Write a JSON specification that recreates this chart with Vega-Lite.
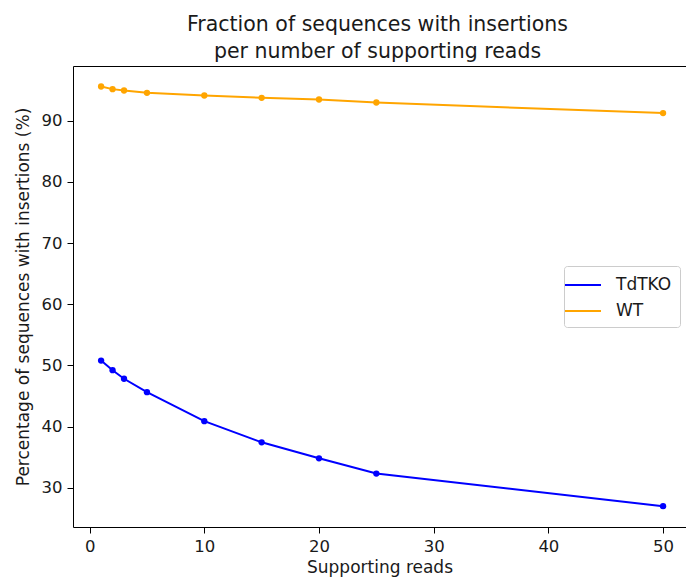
{
  "$schema": "https://vega.github.io/schema/vega-lite/v6.json",
  "autosize": "none",
  "width": 613,
  "height": 461,
  "padding": {"left": 73, "top": 66, "right": 0, "bottom": 56},
  "background": "white",
  "config": {
    "font": "DejaVu Sans",
    "view": {"stroke": "black", "strokeWidth": 1},
    "axis": {
      "grid": false,
      "domain": false,
      "tickColor": "black",
      "tickSize": 6,
      "labelPadding": 5,
      "labelFontSize": 16.5,
      "labelColor": "#1a1a1a",
      "titleFontSize": 17,
      "titleFontWeight": "normal",
      "titleColor": "#1a1a1a",
      "labelFont": "DejaVu Sans",
      "titleFont": "DejaVu Sans"
    }
  },
  "title": {
    "text": ["Fraction of sequences with insertions", "per number of supporting reads"],
    "fontSize": 20.5,
    "fontWeight": "normal",
    "font": "DejaVu Sans",
    "color": "#1a1a1a",
    "anchor": "middle",
    "lineHeight": 27,
    "offset": 4,
    "dx": -2
  },
  "data": {
    "values": [
      {"reads": 1, "pct": 50.8, "genotype": "TdTKO"},
      {"reads": 2, "pct": 49.23, "genotype": "TdTKO"},
      {"reads": 3, "pct": 47.83, "genotype": "TdTKO"},
      {"reads": 5, "pct": 45.64, "genotype": "TdTKO"},
      {"reads": 10, "pct": 40.9, "genotype": "TdTKO"},
      {"reads": 15, "pct": 37.44, "genotype": "TdTKO"},
      {"reads": 20, "pct": 34.83, "genotype": "TdTKO"},
      {"reads": 25, "pct": 32.33, "genotype": "TdTKO"},
      {"reads": 50, "pct": 27.0, "genotype": "TdTKO"},
      {"reads": 1, "pct": 95.6, "genotype": "WT"},
      {"reads": 2, "pct": 95.17, "genotype": "WT"},
      {"reads": 3, "pct": 94.94, "genotype": "WT"},
      {"reads": 5, "pct": 94.57, "genotype": "WT"},
      {"reads": 10, "pct": 94.13, "genotype": "WT"},
      {"reads": 15, "pct": 93.75, "genotype": "WT"},
      {"reads": 20, "pct": 93.47, "genotype": "WT"},
      {"reads": 25, "pct": 92.98, "genotype": "WT"},
      {"reads": 50, "pct": 91.25, "genotype": "WT"}
    ]
  },
  "encoding": {
    "x": {
      "field": "reads",
      "type": "quantitative",
      "title": "Supporting reads",
      "scale": {"domain": [-1.45, 52.0], "nice": false, "zero": false},
      "axis": {"values": [0, 10, 20, 30, 40, 50], "titlePadding": 5}
    },
    "y": {
      "field": "pct",
      "type": "quantitative",
      "title": "Percentage of sequences with insertions (%)",
      "scale": {"domain": [23.6, 98.95], "nice": false, "zero": false},
      "axis": {"values": [30, 40, 50, 60, 70, 80, 90], "titlePadding": 9}
    },
    "color": {
      "field": "genotype",
      "type": "nominal",
      "scale": {"domain": ["TdTKO", "WT"], "range": ["#0000ff", "#ffa500"]}
    }
  },
  "layer": [
    {
      "mark": {"type": "line", "strokeWidth": 2},
      "encoding": {
        "color": {
          "field": "genotype",
          "type": "nominal",
          "scale": {"domain": ["TdTKO", "WT"], "range": ["#0000ff", "#ffa500"]},
          "legend": {
            "title": null,
            "orient": "none",
            "legendX": 491,
            "legendY": 200,
            "symbolType": "M-1.8,0H1.8",
            "symbolSize": 400,
            "symbolStrokeWidth": 2,
            "labelFontSize": 17,
            "labelColor": "#1a1a1a",
            "labelFont": "DejaVu Sans",
            "rowPadding": 7,
            "labelOffset": 22,
            "padding": 8,
            "strokeColor": "#cccccc",
            "cornerRadius": 3,
            "fillColor": "white"
          }
        }
      }
    },
    {
      "mark": {"type": "point", "filled": true, "size": 40, "opacity": 1},
      "encoding": {
        "color": {
          "field": "genotype",
          "type": "nominal",
          "scale": {"domain": ["TdTKO", "WT"], "range": ["#0000ff", "#ffa500"]},
          "legend": null
        }
      }
    }
  ]
}
